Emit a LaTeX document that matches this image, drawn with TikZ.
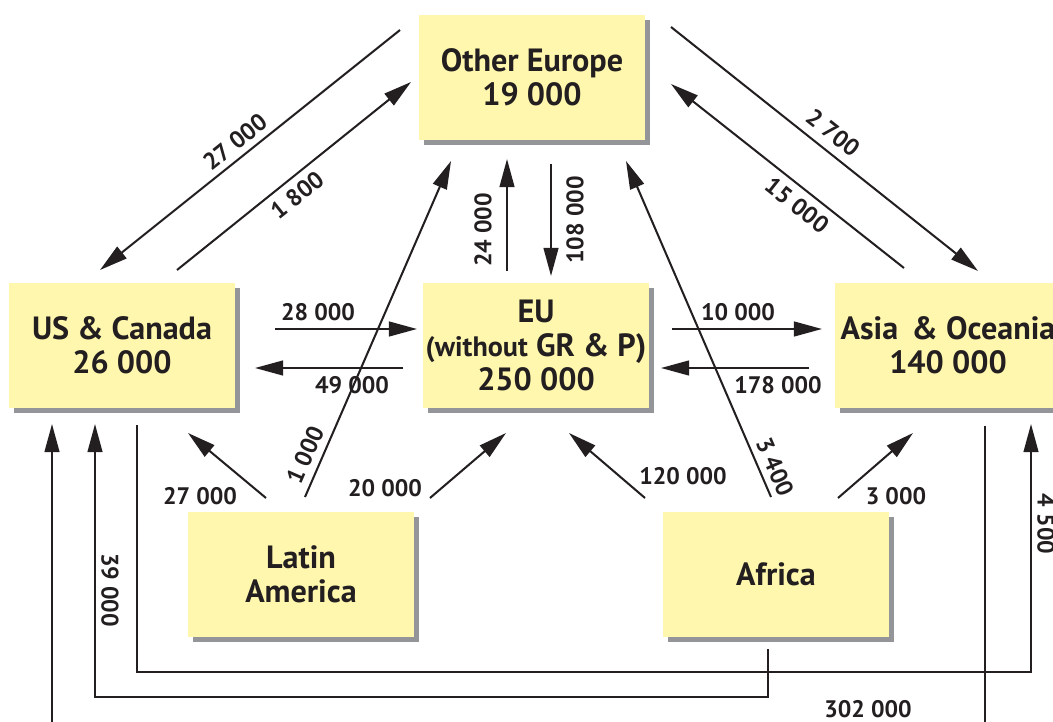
\documentclass[tikz,border=0pt]{standalone}
\usepackage{fontspec}
\setmainfont{PT Sans}
\usetikzlibrary{arrows.meta,shadows}
\definecolor{boxyellow}{RGB}{255,247,174}
\definecolor{shadowgray}{RGB}{147,149,152}
\definecolor{ink}{RGB}{35,31,32}

\begin{document}
\begin{tikzpicture}[x=0.02cm,y=-0.02cm,>={Triangle[length=16pt,width=8.4pt]},line width=1.15pt,color=ink,
    region/.style={rectangle,fill=boxyellow,minimum width=4.52cm,minimum height=2.5cm,inner sep=1pt,align=center,font=\bfseries\fontsize{18.3}{19.3}\selectfont,general shadow={fill=shadowgray,shadow xshift=3.1pt,shadow yshift=-3.1pt}},
    flow/.style={inner sep=1pt,font=\bfseries\fontsize{13.6}{15}\selectfont}]

            \path[use as bounding box,clip] (0,0) rectangle (1053,722);

            \node[region] (oe) at (532,77.5) {Other Europe\\19 000};
            \node[region] (us) at (122,345.5) {US \& Canada\\26 000};
            \node[region] (eu) at (536,345.5) {EU\\{\fontsize{16}{19.3}\selectfont(without} GR \& P)\\250 000};
            \node[region] (asia) at (948,345.5) {Asia\hspace{0.42em}\& Oceania\\140 000};
            \node[region] (lat) at (301,574.5) {Latin\\America};
            \node[region] (afr) at (776,574.5) {Africa};

            % around Other Europe
            \draw[->] ([shift={(-18,16)}]oe.north west) to ([shift={(-22,-12)}]us.north);
            \draw[->] ([shift={(55,-12)}]us.north) to ([shift={(-7,4.5)}]oe.west);
            \draw[->] ([shift={(4,-14)}]lat.north) to ([shift={(33,20)}]oe.south west);
            \draw[->] ([shift={(-29,-11)}]eu.north) to ([shift={(-25,18)}]oe.south);
            \draw[->] ([shift={(19,23)}]oe.south) to ([shift={(15,-6)}]eu.north);
            \draw[->] ([shift={(-5,-14)}]afr.north) to ([shift={(-20,20)}]oe.south east);
            \draw[->] ([shift={(25,13)}]oe.north east) to ([shift={(30,-11)}]asia.north);
            \draw[->] ([shift={(-44,-14)}]asia.north) to ([shift={(25,6.5)}]oe.east);

            % middle row
            \draw[->] ([shift={(39,-16.5)}]us.east) to ([shift={(-5,-16.5)}]eu.west);
            \draw[->] ([shift={(-19,22.5)}]eu.west) to ([shift={(19,22.5)}]us.east);
            \draw[->] ([shift={(22,-16.5)}]eu.east) to ([shift={(-12,-16.5)}]asia.west);
            \draw[->] ([shift={(-25,22.5)}]asia.west) to ([shift={(11,22.5)}]eu.east);

            % from the bottom row
            \draw[->] ([shift={(-35,-13)}]lat.north) to ([shift={(66,24)}]us.south);
            \draw[->] ([shift={(15,-13)}]lat.north east) to ([shift={(-30,24)}]eu.south);
            \draw[->] ([shift={(-17,-13)}]afr.north west) to ([shift={(33,24)}]eu.south);
            \draw[->] ([shift={(-52,-13)}]afr.north east) to ([shift={(-35,24)}]asia.south);

            % long ways round
            \draw[->] ([shift={(37,17)}]asia.south) -- ++(0,320) -| ([shift={(-70,15)}]us.south);
            \draw[->] ([shift={(-8,11)}]afr.south) -- ++(0,48) -| ([shift={(-27,15)}]us.south);
            \draw[->] ([shift={(15,16)}]us.south) -- ++(0,247) -| ([shift={(83,15)}]asia.south);

            \node[flow,rotate=38.6] (f1) at (235,142) {27 000};
            \node[flow,rotate=38.6] (f2) at (297,195) {1 800};
            \node[flow,rotate=66.4] (f3) at (305,455) {1 000};
            \node[flow,rotate=90] (f4) at (483,230) {24 000};
            \node[flow,rotate=90] (f5) at (575,220) {108 000};
            \node[flow,rotate=-66.7] (f6) at (775,467) {3 400};
            \node[flow,rotate=-38.4] (f7) at (833,133) {2 700};
            \node[flow,rotate=-38.4] (f8) at (797,205) {15 000};
            \node[flow] (f9) at (318,312) {28 000};
            \node[flow] (f10) at (352,385) {49 000};
            \node[flow] (f11) at (738,312) {10 000};
            \node[flow] (f12) at (778,385) {178 000};
            \node[flow] (f13) at (200,496) {27 000};
            \node[flow] (f14) at (385,488) {20 000};
            \node[flow] (f15) at (683,476) {120 000};
            \node[flow] (f16) at (896,496) {3 000};
            \node[flow] (f17) at (868,709) {302 000};
            \node[flow,rotate=-90] (f18) at (110,590) {39 000};
            \node[flow,rotate=-90] (f19) at (1046,524) {4 500};

            ;
\end{tikzpicture}
\end{document}
